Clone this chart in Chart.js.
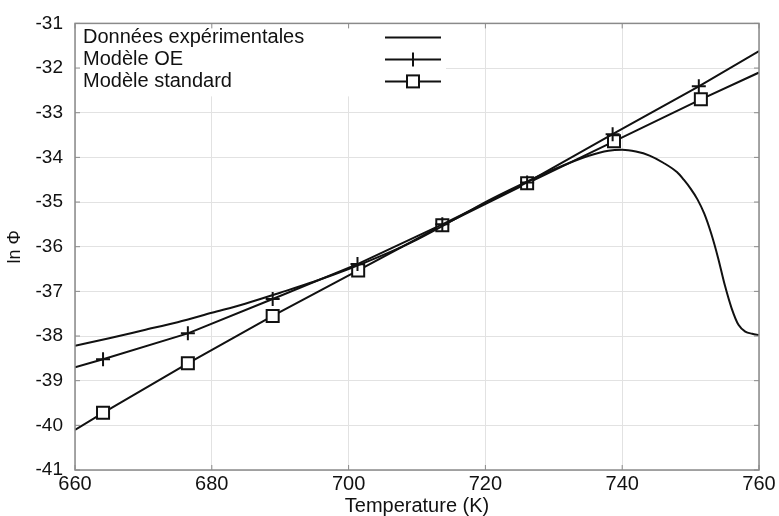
<!DOCTYPE html>
<html>
<head>
<meta charset="utf-8">
<script src="https://cdn.jsdelivr.net/npm/chart.js@4/dist/chart.umd.min.js"></script>
<style>
  html, body { margin: 0; padding: 0; background: #fff; }
  #wrap { width: 779px; height: 516px; }
</style>
</head>
<body>
<div id="wrap"><canvas id="chart" width="779" height="516"></canvas></div>
<script>
// axis ticks
const xTicks = [660, 680, 700, 720, 740, 760];
const yTicks = [-31, -32, -33, -34, -35, -36, -37, -38, -39, -40, -41];

// experimental data (continuous curve)
const expTemps = [660, 665, 670, 675, 680, 685, 690, 695, 700, 705, 710, 715, 720, 725, 730, 735, 738, 740, 742, 744, 746, 748, 749, 750, 751, 752, 753, 754, 755, 756, 757, 758, 759, 760];
const expValues = [-38.22, -38.05, -37.87, -37.69, -37.48, -37.27, -37.03, -36.78, -36.5, -36.19, -35.84, -35.43, -35.0, -34.62, -34.27, -33.97, -33.85, -33.83, -33.87, -33.96, -34.12, -34.33, -34.5, -34.7, -34.94, -35.26, -35.7, -36.24, -36.86, -37.38, -37.75, -37.9, -37.95, -37.98];

// OE model (marker "+")
const oeTemps = [660, 664.1, 676.5, 688.9, 701.3, 713.7, 726.1, 738.6, 751.2, 760];
const oeValues = [-38.70, -38.52, -37.94, -37.17, -36.39, -35.50, -34.56, -33.48, -32.41, -31.62];

// standard model (marker square)
const stdTemps = [660, 664.1, 676.5, 688.9, 701.4, 713.7, 726.1, 738.8, 751.5, 760];
const stdValues = [-40.10, -39.72, -38.61, -37.55, -36.53, -35.52, -34.58, -33.64, -32.70, -32.10];

const seriesNames = ['Données expérimentales', 'Modèle OE', 'Modèle standard'];

const toXY = (xs, ys) => xs.map((x, i) => ({ x: x, y: ys[i] }));
// no marker on the line ends
const markerRadius = (n, r) => (ctx) => (ctx.dataIndex === 0 || ctx.dataIndex === n - 1) ? 0 : r;

const FONT = '"Liberation Sans", Arial, sans-serif';
const INK = '#111';

// frame with ticks on all four sides
const framePlugin = {
  id: 'frame',
  afterDraw(chart) {
    const { ctx, chartArea: a, scales } = chart;
    ctx.save();
    ctx.strokeStyle = '#8a8a8a';
    ctx.lineWidth = 1.5;
    ctx.strokeRect(a.left, a.top, a.right - a.left, a.bottom - a.top);
    ctx.lineWidth = 1;
    ctx.beginPath();
    xTicks.forEach(t => {
      const x = scales.x.getPixelForValue(t);
      ctx.moveTo(x, a.bottom); ctx.lineTo(x, a.bottom - 5);
      ctx.moveTo(x, a.top); ctx.lineTo(x, a.top + 5);
    });
    yTicks.forEach(t => {
      const y = scales.y.getPixelForValue(t);
      ctx.moveTo(a.left, y); ctx.lineTo(a.left + 5, y);
      ctx.moveTo(a.right, y); ctx.lineTo(a.right - 5, y);
    });
    ctx.stroke();
    ctx.restore();
  }
};

// legend inside the plot: text left, line sample right
const legendPlugin = {
  id: 'insideLegend',
  afterDatasetsDraw(chart) {
    const { ctx, chartArea: a } = chart;
    ctx.save();
    ctx.fillStyle = '#fff';
    ctx.fillRect(a.left + 1, a.top + 1, 370, 72);
    ctx.font = '20px ' + FONT;
    ctx.fillStyle = INK;
    ctx.textBaseline = 'middle';
    ctx.textAlign = 'left';
    ctx.strokeStyle = INK;
    ctx.lineWidth = 2;
    seriesNames.forEach((name, i) => {
      const y = a.top + 14 + i * 22;
      ctx.fillText(name, a.left + 8, y);
      const x0 = a.left + 310, x1 = a.left + 366, xm = (x0 + x1) / 2;
      ctx.beginPath();
      ctx.moveTo(x0, y); ctx.lineTo(x1, y);
      ctx.stroke();
      if (i === 1) {
        ctx.beginPath();
        ctx.moveTo(xm, y - 7); ctx.lineTo(xm, y + 7);
        ctx.stroke();
      } else if (i === 2) {
        ctx.fillStyle = '#fff';
        ctx.fillRect(xm - 6, y - 6, 12, 12);
        ctx.strokeRect(xm - 6, y - 6, 12, 12);
        ctx.fillStyle = INK;
      }
    });
    ctx.restore();
  }
};

new Chart(document.getElementById('chart').getContext('2d'), {
  type: 'scatter',
  data: {
    datasets: [
      {
        label: seriesNames[0],
        data: toXY(expTemps, expValues),
        showLine: true,
        borderColor: INK,
        borderWidth: 2,
        pointRadius: 0,
        cubicInterpolationMode: 'monotone'
      },
      {
        label: seriesNames[1],
        data: toXY(oeTemps, oeValues),
        showLine: true,
        borderColor: INK,
        borderWidth: 2,
        pointStyle: 'cross',
        pointRadius: markerRadius(oeTemps.length, 7),
        pointBorderWidth: 2,
        pointBorderColor: INK
      },
      {
        label: seriesNames[2],
        data: toXY(stdTemps, stdValues),
        showLine: true,
        borderColor: INK,
        borderWidth: 2,
        pointStyle: 'rect',
        pointRadius: markerRadius(stdTemps.length, 8.5),
        pointBorderWidth: 2,
        pointBorderColor: INK,
        pointBackgroundColor: '#fff'
      }
    ]
  },
  options: {
    responsive: false,
    animation: false,
    layout: { padding: { top: 23, right: 20, left: 0, bottom: 0 } },
    plugins: {
      legend: { display: false },
      tooltip: { enabled: false }
    },
    scales: {
      x: {
        type: 'linear',
        min: 660,
        max: 760,
        afterBuildTicks: (s) => { s.ticks = xTicks.map(v => ({ value: v })); },
        afterFit: (s) => { s.height = 46; },
        grid: { color: '#e2e2e2', drawTicks: false },
        border: { display: false },
        ticks: { color: INK, font: { family: FONT, size: 20 }, padding: 2, maxRotation: 0 },
        title: { display: true, text: 'Temperature (K)', color: INK, font: { family: FONT, size: 20 }, padding: { top: 0, bottom: -2 } }
      },
      y: {
        type: 'linear',
        min: -41,
        max: -31,
        afterBuildTicks: (s) => { s.ticks = yTicks.map(v => ({ value: v })); },
        afterFit: (s) => { s.width = 75; },
        grid: { color: '#e2e2e2', drawTicks: false },
        border: { display: false },
        ticks: { color: INK, font: { family: FONT, size: 19 }, padding: 12 },
        title: { display: true, text: 'ln Φ', color: INK, font: { family: FONT, size: 18 }, padding: { top: 4, bottom: 4 } }
      }
    }
  },
  plugins: [framePlugin, legendPlugin]
});
</script>
</body>
</html>
